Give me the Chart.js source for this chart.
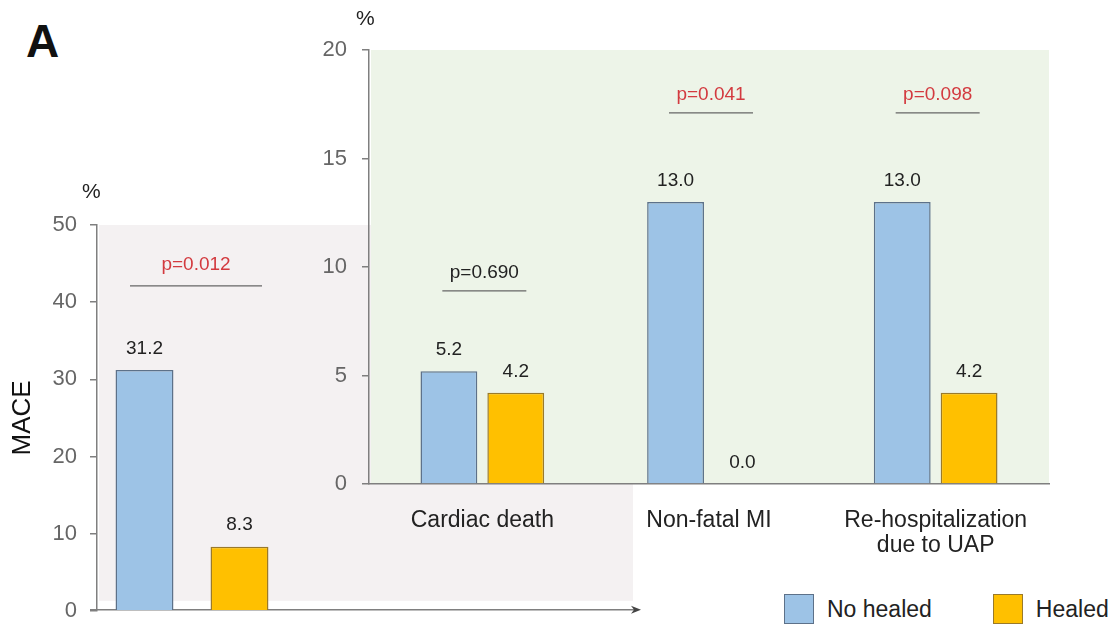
<!DOCTYPE html>
<html>
<head>
<meta charset="utf-8">
<script src="https://cdn.jsdelivr.net/npm/chart.js@4/dist/chart.umd.min.js"></script>
<style>
    html, body { margin: 0; padding: 0; background: #fff; overflow: hidden; }
    #wrap { position: relative; width: 1117px; height: 629px; overflow: hidden; font-family: "Liberation Sans", Arial, sans-serif; }
    #wrap canvas { position: absolute; }
    #mace-canvas { left: 0; top: 178px; }
    #events-canvas { left: 300px; top: 0; }
    .txt { position: absolute; color: #222; white-space: nowrap; }
    #panel-letter { left: 26px; top: 14px; font-size: 46px; font-weight: bold; color: #111; }
    #pct-left { left: 82px; top: 179px; font-size: 21px; }
    #pct-right { left: 356px; top: 6px; font-size: 21px; }
    #legend { position: absolute; left: 784px; top: 594px; display: flex; }
    .lg-item { display: flex; align-items: center; margin-right: 61px; font-size: 23px; color: #222; }
    .lg-item:last-child { margin-right: 0; }
    .lg-box { width: 28px; height: 28px; margin-right: 13px; border: 1.5px solid; }
</style>
</head>
<body>
<div id="wrap">
    <canvas id="mace-canvas" width="650" height="459" style="width:650px;height:459px"></canvas>
    <canvas id="events-canvas" width="817" height="560" style="width:817px;height:560px"></canvas>
    <div class="txt" id="panel-letter">A</div>
    <div class="txt" id="pct-left">%</div>
    <div class="txt" id="pct-right">%</div>
    <div id="legend"></div>
</div>
<script>
// --- DATA ---
const seriesNames = ['No healed', 'Healed'];

const maceCategory = ['MACE'];
const maceNoHealed = [31.2];
const maceHealed = [8.3];
const maceP = ['p=0.012'];
const macePLevel = [42.1];
const maceSignificant = [true];
const maceTicks = { min: 0, max: 50, step: 10 };

const eventCategories = ['Cardiac death', 'Non-fatal MI', ['Re-hospitalization', 'due to UAP']];
const eventNoHealed = [5.2, 13.0, 13.0];
const eventHealed = [4.2, 0.0, 4.2];
const eventP = ['p=0.690', 'p=0.041', 'p=0.098'];
const eventPLevel = [8.9, 17.1, 17.1];
const eventSignificant = [false, true, true];
const eventTicks = { min: 0, max: 20, step: 5 };

// --- STYLE ---
const FONT = '"Liberation Sans", Arial, sans-serif';
const BLUE = '#9dc3e6', BLUE_EDGE = '#5d7189';
const GOLD = '#ffc000', GOLD_EDGE = '#9a7a2a';
const AXIS = '#7f7f7f';
const RED = '#d33a3f';

// background of the plot area (can reach past the chart area on the right)
const panelBg = {
    id: 'panelBg',
    beforeDraw(chart, args, opts) {
        const { ctx, chartArea } = chart;
        ctx.save();
        ctx.fillStyle = opts.color;
        const right = opts.right != null ? opts.right : chartArea.right;
        const bottom = chartArea.bottom + (opts.extendBottom || 0);
        ctx.fillRect(chartArea.left + 2, chartArea.top, right - chartArea.left - 2, bottom - chartArea.top);
        if (opts.arrowTo) {
            // x axis drawn as an arrow running under the next panel
            const y = chartArea.bottom - 1;
            ctx.strokeStyle = AXIS;
            ctx.lineWidth = 1.5;
            ctx.beginPath();
            ctx.moveTo(chartArea.left - 7, y);
            ctx.lineTo(opts.arrowTo, y);
            ctx.stroke();
            ctx.fillStyle = '#444';
            ctx.beginPath();
            ctx.moveTo(opts.arrowTo + 4, y);
            ctx.lineTo(opts.arrowTo - 6, y - 4);
            ctx.lineTo(opts.arrowTo - 3, y);
            ctx.lineTo(opts.arrowTo - 6, y + 4);
            ctx.closePath();
            ctx.fill();
        }
        ctx.restore();
    }
};

// value above each bar
const valueLabels = {
    id: 'valueLabels',
    afterDatasetsDraw(chart) {
        const { ctx } = chart;
        ctx.save();
        ctx.font = '19px ' + FONT;
        ctx.fillStyle = '#222';
        ctx.textAlign = 'center';
        ctx.textBaseline = 'bottom';
        chart.data.datasets.forEach((ds, i) => {
            chart.getDatasetMeta(i).data.forEach((bar, j) => {
                ctx.fillText(ds.data[j].toFixed(1), bar.x, bar.y - 12);
            });
        });
        ctx.restore();
    }
};

// p-value with a bar over each group
const pValueMarks = {
    id: 'pValueMarks',
    afterDraw(chart, args, opts) {
        const { ctx, scales } = chart;
        ctx.save();
        opts.labels.forEach((txt, i) => {
            const cx = scales.x.getPixelForValue(i) + (opts.shift || 0);
            const y = scales.y.getPixelForValue(opts.levels[i]);
            ctx.strokeStyle = '#666';
            ctx.lineWidth = 1.2;
            ctx.beginPath();
            ctx.moveTo(cx - opts.half, y);
            ctx.lineTo(cx + opts.half, y);
            ctx.stroke();
            ctx.font = '19px ' + FONT;
            ctx.fillStyle = opts.significant[i] ? RED : '#222';
            ctx.textAlign = 'center';
            ctx.textBaseline = 'middle';
            ctx.fillText(txt, cx, y - opts.gap);
        });
        ctx.restore();
    }
};

function makeDatasets(a, b, bp, cp) {
    return [
        { label: seriesNames[0], data: a, backgroundColor: BLUE, borderColor: BLUE_EDGE, borderWidth: 1.5, borderSkipped: 'bottom', barPercentage: bp, categoryPercentage: cp },
        { label: seriesNames[1], data: b, backgroundColor: GOLD, borderColor: GOLD_EDGE, borderWidth: 1.5, borderSkipped: 'bottom', barPercentage: bp, categoryPercentage: cp }
    ];
}

function yAxis(t, width, pad, title) {
    return {
        min: t.min, max: t.max,
        ticks: { stepSize: t.step, color: '#666', padding: pad, font: { size: 22, family: FONT } },
        grid: { drawOnChartArea: false, tickLength: 7, color: AXIS, lineWidth: 1.5 },
        border: { color: AXIS, width: 1.5 },
        title: title ? { display: true, text: title, color: '#111', font: { size: 26, family: FONT }, padding: { top: 7, bottom: 0 } } : { display: false },
        afterFit(scale) { scale.width = width; }
    };
}

Chart.defaults.font.family = FONT;
Chart.defaults.animation = false;

// --- LEFT: MACE ---
new Chart(document.getElementById('mace-canvas'), {
    type: 'bar',
    data: { labels: maceCategory, datasets: makeDatasets(maceNoHealed, maceHealed, 0.61, 1) },
    options: {
        responsive: false,
        layout: { padding: { top: 47, right: 363, bottom: 11, left: 0 } },
        plugins: {
            legend: { display: false },
            tooltip: { enabled: false },
            panelBg: { color: '#f4f1f2', right: 633, extendBottom: -10, arrowTo: 637 },
            pValueMarks: { labels: maceP, levels: macePLevel, significant: maceSignificant, half: 66, shift: 4, gap: 21 }
        },
        scales: {
            x: { display: false },
            y: yAxis(maceTicks, 97, 13, 'MACE')
        }
    },
    plugins: [panelBg, valueLabels, pValueMarks]
});

// --- RIGHT: individual events ---
const eventsChart = new Chart(document.getElementById('events-canvas'), {
    type: 'bar',
    data: { labels: eventCategories, datasets: makeDatasets(eventNoHealed, eventHealed, 0.85, 0.59) },
    options: {
        responsive: false,
        layout: { padding: { top: 50, right: 68, bottom: 0, left: 0 } },
        plugins: {
            legend: { display: false },
            tooltip: { enabled: false },
            panelBg: { color: '#edf4e8' },
            pValueMarks: { labels: eventP, levels: eventPLevel, significant: eventSignificant, half: 42, shift: 2, gap: 18 }
        },
        scales: {
            x: {
                ticks: { color: '#222', padding: 25, font: { size: 23, family: FONT, lineHeight: 1.05 } },
                grid: { display: false, drawTicks: false },
                border: { color: AXIS, width: 1.5 },
                afterFit(scale) { scale.height = 76; }
            },
            y: yAxis(eventTicks, 69, 15, null)
        }
    },
    plugins: [panelBg, valueLabels, pValueMarks]
});

// --- legend from the chart's datasets ---
document.getElementById('legend').innerHTML = eventsChart.data.datasets.map(ds => `
    <div class="lg-item"><span class="lg-box" style="background:${ds.backgroundColor};border-color:${ds.borderColor}"></span>${ds.label}</div>
`).join('');
</script>
</body>
</html>
